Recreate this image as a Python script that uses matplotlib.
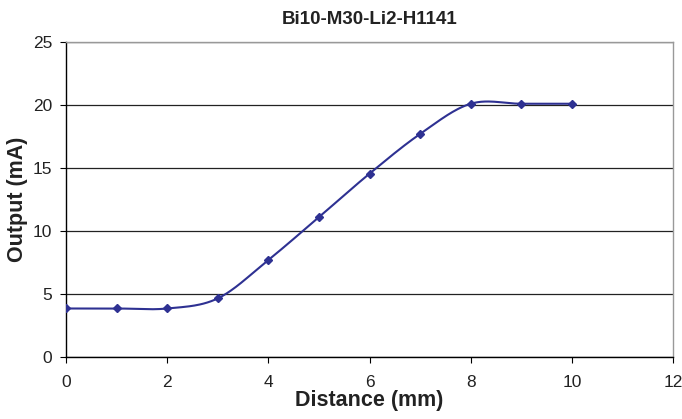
import numpy as np
import matplotlib
matplotlib.use("Agg")
import matplotlib.pyplot as plt

plt.rcParams['font.family'] = ['Liberation Sans', 'DejaVu Sans']

distance_mm = [0, 1, 2, 3, 4, 5, 6, 7, 8, 9, 10]
output_ma = [3.85, 3.85, 3.85, 4.65, 7.7, 11.1, 14.55, 17.7, 20.1, 20.1, 20.1]
x_ticks = [0, 2, 4, 6, 8, 10, 12]
y_ticks = [0, 5, 10, 15, 20, 25]
title = "Bi10-M30-Li2-H1141"
x_label = "Distance (mm)"
y_label = "Output (mA)"

LINE = "#2E3192"


def smooth_curve(xs, ys, steps=40):
    """Piecewise cubic Bezier through the points (Catmull-Rom style tangents)."""
    p = np.column_stack([xs, ys]).astype(float)
    n = len(p)
    out = []
    for i in range(n - 1):
        p0 = p[i - 1] if i > 0 else p[i]
        p1 = p[i]
        p2 = p[i + 1]
        p3 = p[i + 2] if i + 2 < n else p[i + 1]
        c1 = p1 + (p2 - p0) / 6.0
        c2 = p2 - (p3 - p1) / 6.0
        t = np.linspace(0, 1, steps)[:, None]
        seg = ((1 - t) ** 3) * p1 + 3 * ((1 - t) ** 2) * t * c1 + 3 * (1 - t) * t ** 2 * c2 + t ** 3 * p2
        out.append(seg if i == 0 else seg[1:])
    return np.vstack(out)


fig = plt.figure(figsize=(6.82, 4.19), dpi=100)
ax = fig.add_axes([66 / 682, 1 - 357 / 419, (673 - 66) / 682, (357 - 42) / 419])

curve = smooth_curve(distance_mm, output_ma)
ax.plot(curve[:, 0], curve[:, 1], color=LINE, lw=1.5, zorder=3, solid_capstyle='round')
ax.plot(distance_mm, output_ma, linestyle='none', marker='D', markersize=4.5,
        color=LINE, zorder=4)

ax.set_xlim(0, 12)
ax.set_ylim(0, 25)
ax.set_xticks(x_ticks)
ax.set_yticks(y_ticks)
ax.yaxis.grid(True, color='#222222', lw=0.9)
ax.set_axisbelow(True)

for s in ['top', 'right']:
    ax.spines[s].set_color('#999999')
    ax.spines[s].set_linewidth(1.0)
for s in ['left', 'bottom']:
    ax.spines[s].set_color('black')
    ax.spines[s].set_linewidth(1.0)

ax.tick_params(axis='both', direction='out', length=4, width=0.8, labelsize=12.5,
               colors='black', labelcolor='#222222')
ax.tick_params(axis='x', pad=9)
ax.tick_params(axis='y', pad=6)

fig.text((66 + 673) / 2 / 682, 1 - 400 / 419, x_label, ha='center', va='center',
         fontsize=15.5, fontweight='bold', color='#222222')
fig.text(18 / 682, 1 - 199 / 419, y_label, ha='center', va='center', rotation=90,
         fontsize=15.5, fontweight='bold', color='#222222')
fig.text((66 + 673) / 2 / 682, 1 - 19 / 419, title, ha='center', va='center',
         fontsize=13.5, fontweight='bold', color='#222222')

fig.savefig("out.png", dpi=100)
